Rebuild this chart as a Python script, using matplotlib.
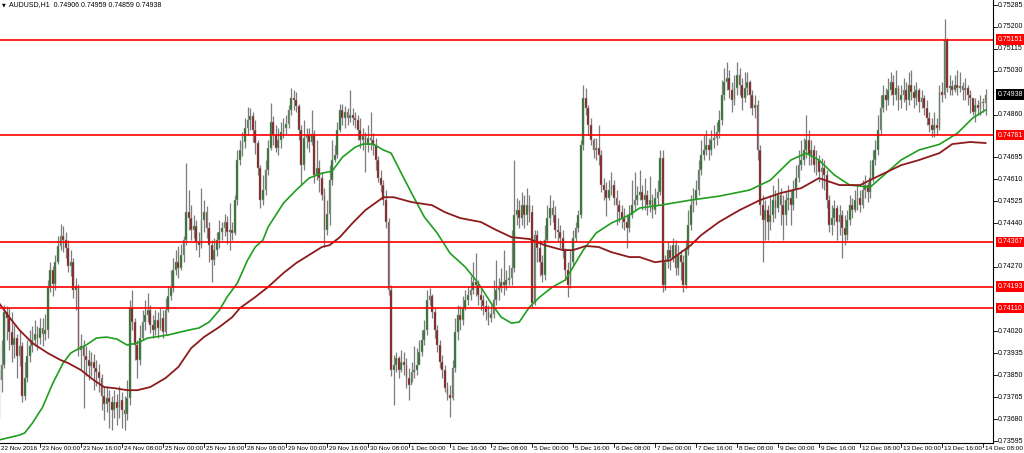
import numpy as np
import matplotlib.pyplot as plt
from matplotlib.transforms import blended_transform_factory

# AUDUSD H1 bars, prices in points (1 point = 0.00001)
first_open = 73870
close_pts = [
    73831, 73889, 74095, 74071, 74017, 73967, 73994, 73924, 73963, 73769,
    73839, 73924, 73963, 73986, 74009, 73994, 74033, 74009, 74025, 74188,
    74257, 74203, 74288, 74351, 74389, 74374, 74343, 74273, 74288, 74180,
    74195, 73947, 73963, 73924, 73909, 73885, 73901, 73878, 73862, 73839,
    73769, 73738, 73761, 73746, 73715, 73746, 73723, 73754, 73715, 73699,
    73761, 74110, 74056, 73967, 73909, 73994, 74056, 74083, 74102, 74044,
    74025, 74064, 74033, 74071, 74017, 74102, 74157, 74188, 74257, 74288,
    74265, 74316, 74374, 74482, 74459, 74413, 74428, 74366, 74354, 74451,
    74482, 74420, 74354, 74296, 74335, 74374, 74405, 74420, 74444, 74405,
    74413, 74401, 74529, 74684, 74723, 74754, 74808, 74839, 74854, 74800,
    74750, 74653, 74529, 74568, 74645, 74730, 74831, 74781, 74730, 74761,
    74792, 74808, 74823, 74878, 74924, 74916, 74893, 74800, 74664, 74769,
    74781, 74754, 74785, 74626, 74653, 74614, 74548, 74413, 74475, 74606,
    74684, 74703, 74800, 74878, 74847, 74870, 74847, 74858, 74847, 74839,
    74800, 74761, 74777, 74742, 74769, 74761, 74742, 74684, 74614, 74587,
    74529, 74444, 74180, 73870, 73889, 73916, 73870, 73901, 73889, 73839,
    73812, 73862, 73870, 73889, 73940, 73986, 74025, 74141, 74157, 74095,
    74025, 73967, 73901, 73870, 73800, 73773, 73761, 73878, 74017, 74083,
    74064, 74110, 74141, 74161, 74180, 74211, 74199, 74161, 74141, 74118,
    74095, 74071, 74087, 74141, 74180, 74188, 74211, 74199, 74219, 74226,
    74265, 74471, 74490, 74459, 74509, 74471, 74509, 74482, 74130, 74393,
    74343, 74288, 74238, 74374, 74459, 74498, 74471, 74413, 74405, 74382,
    74335, 74257, 74199, 74288, 74382, 74420, 74471, 74742, 74924, 74886,
    74820, 74761, 74723, 74730, 74703, 74587, 74568, 74537, 74568, 74587,
    74537, 74509, 74482, 74459, 74444, 74420, 74471, 74509, 74529, 74548,
    74560, 74529, 74548, 74509, 74529, 74490, 74537, 74560, 74692, 74199,
    74288, 74335, 74304, 74354, 74265, 74316, 74288, 74199, 74335, 74432,
    74509, 74529, 74568, 74645, 74703, 74723, 74742, 74723, 74761, 74769,
    74792, 74839, 74936, 74986, 75002, 74955, 74916, 74963, 75013, 74975,
    74924, 74963, 74986, 74936, 74886, 74897, 74723, 74509, 74451, 74490,
    74444, 74471, 74529, 74498, 74548, 74509, 74471, 74529, 74537, 74509,
    74568, 74614, 74664, 74684, 74723, 74761, 74703, 74723, 74664, 74684,
    74637, 74653, 74626, 74529, 74432, 74459, 74498, 74444, 74471, 74420,
    74393, 74451, 74509, 74490, 74529, 74537, 74509, 74568, 74587, 74560,
    74614, 74684, 74723, 74800, 74886, 74936, 74916, 74955, 74986, 74936,
    74963, 74916, 74936, 74955, 74916, 74975, 74947, 74924, 74955, 74909,
    74924, 74886, 74847, 74820, 74800, 74820, 74808, 74947, 74936, 75149,
    74963, 74971, 74955, 74975, 74963, 74971, 74955, 74963, 74936, 74924,
    74870, 74897, 74886, 74909, 74906, 74938]
high_pts = [
    73967, 73986, 74122, 74118, 74110, 74095, 74044, 74009, 74025, 73978,
    73901, 73986, 74025, 74040, 74064, 74040, 74071, 74071, 74087, 74219,
    74288, 74273, 74316, 74389, 74436, 74428, 74405, 74374, 74335, 74304,
    74226, 74203, 74009, 73986, 73963, 73947, 73940, 73932, 73909, 73893,
    73854, 73808, 73808, 73792, 73769, 73792, 73777, 73808, 73785, 73769,
    73831, 74141, 74180, 74071, 73986, 74044, 74102, 74141, 74168, 74122,
    74083, 74102, 74095, 74110, 74102, 74149, 74195, 74257, 74304, 74335,
    74351, 74358, 74389, 74672, 74568, 74509, 74471, 74451, 74405, 74575,
    74529, 74506, 74444, 74374, 74382, 74405, 74451, 74444, 74475, 74467,
    74517, 74444, 74548, 74723, 74761, 74792, 74847, 74889, 74886, 74870,
    74839, 74761, 74664, 74626, 74684, 74761, 74905, 74854, 74820, 74808,
    74831, 74847, 74858, 74897, 74963, 74955, 74947, 74901, 74820, 74839,
    74808, 74808, 74878, 74800, 74761, 74684, 74637, 74575, 74529, 74664,
    74761, 74742, 74831, 74901, 74901, 74893, 74886, 74955, 74886, 74870,
    74858, 74847, 74808, 74792, 74820, 74870, 74788, 74769, 74699, 74645,
    74606, 74568, 74459, 74199, 73928, 73940, 73924, 73947, 73940, 73916,
    73878, 73901, 73963, 73955, 73986, 74025, 74064, 74180, 74188, 74164,
    74110, 74044, 73986, 73928, 73889, 73823, 73812, 73909, 74071, 74122,
    74118, 74157, 74180, 74195, 74234, 74288, 74323, 74219, 74188, 74161,
    74141, 74122, 74122, 74219, 74296, 74226, 74265, 74335, 74257, 74277,
    74413, 74684, 74537, 74529, 74560, 74548, 74575, 74548, 74509, 74413,
    74413, 74374, 74316, 74432, 74509, 74548, 74529, 74506, 74459, 74432,
    74413, 74343, 74288, 74335, 74413, 74444, 74490, 74761, 74975, 74963,
    74897, 74847, 74769, 74769, 74820, 74723, 74614, 74599, 74606, 74637,
    74606, 74568, 74529, 74509, 74498, 74475, 74509, 74606, 74637, 74583,
    74645, 74587, 74614, 74568, 74622, 74552, 74575, 74606, 74723, 74723,
    74316, 74366, 74354, 74382, 74374, 74354, 74335, 74316, 74374, 74490,
    74548, 74575, 74606, 74684, 74761, 74781, 74800, 74769, 74800, 74820,
    74831, 74878, 74994, 75040, 75064, 75033, 74986, 75013, 75064, 75040,
    75002, 75025, 75025, 74994, 74955, 74936, 74916, 74742, 74548, 74529,
    74509, 74548, 74587, 74568, 74614, 74575, 74548, 74560, 74587, 74568,
    74606, 74664, 74723, 74761, 74769, 74858, 74800, 74761, 74742, 74723,
    74703, 74692, 74684, 74645, 74548, 74509, 74529, 74509, 74509, 74490,
    74471, 74490, 74548, 74537, 74568, 74587, 74568, 74606, 74626, 74599,
    74684, 74723, 74761, 74858, 74936, 74975, 74963, 75002, 75025, 75013,
    75033, 74975, 74975, 75002, 74986, 75025, 75033, 74975, 74986, 74963,
    74955, 74936, 74916, 74870, 74847, 74870, 74847, 74975, 74986, 75230,
    75157, 75013, 74994, 75013, 75033, 75025, 74986, 75002, 74975, 74955,
    74924, 74924, 74916, 74936, 74924, 74959]
low_pts = [
    73684, 73785, 73878, 73986, 73947, 73901, 73916, 73839, 73885, 73746,
    73754, 73823, 73901, 73940, 73963, 73947, 73971, 73963, 73986, 73994,
    74172, 74157, 74180, 74281, 74335, 74327, 74304, 74250, 74234, 74149,
    74102, 73924, 73870, 73723, 73847, 73831, 73847, 73792, 73808, 73785,
    73715, 73676, 73707, 73645, 73637, 73684, 73657, 73684, 73645, 73637,
    73676, 73734, 74025, 73909, 73839, 73889, 73986, 74025, 74056, 74013,
    73994, 74006, 73994, 74025, 73994, 74006, 74095, 74141, 74172, 74238,
    74226, 74257, 74288, 74354, 74413, 74374, 74382, 74335, 74308, 74343,
    74405, 74382, 74288, 74211, 74277, 74312, 74343, 74374, 74389, 74358,
    74335, 74374, 74393, 74509, 74664, 74699, 74730, 74781, 74800, 74754,
    74707, 74626, 74498, 74509, 74548, 74626, 74723, 74742, 74715, 74703,
    74730, 74769, 74785, 74808, 74858, 74878, 74870, 74761, 74587, 74645,
    74730, 74715, 74742, 74595, 74606, 74560, 74529, 74347, 74393, 74432,
    74587, 74676, 74692, 74792, 74820, 74808, 74820, 74831, 74820, 74808,
    74761, 74730, 74723, 74637, 74715, 74723, 74703, 74645, 74599, 74560,
    74509, 74420, 74161, 73847, 73734, 73862, 73839, 73862, 73851, 73800,
    73754, 73823, 73839, 73851, 73901, 73924, 73967, 74006, 74122, 74071,
    73994, 73940, 73878, 73839, 73785, 73754, 73688, 73754, 73862, 73986,
    74025, 74044, 74102, 74122, 74141, 74164, 74157, 74122, 74102, 74083,
    74064, 74044, 74056, 74071, 74122, 74141, 74172, 74161, 74180, 74199,
    74199, 74250, 74432, 74420, 74432, 74420, 74432, 74444, 74110, 74122,
    74288, 74234, 74211, 74219, 74366, 74432, 74444, 74382, 74366, 74343,
    74304, 74219, 74153, 74188, 74277, 74366, 74405, 74459, 74723, 74858,
    74781, 74742, 74692, 74684, 74664, 74560, 74529, 74467, 74529, 74548,
    74509, 74432, 74444, 74420, 74413, 74343, 74405, 74459, 74490, 74509,
    74529, 74490, 74490, 74471, 74482, 74459, 74475, 74509, 74548, 74172,
    74180, 74265, 74257, 74288, 74238, 74238, 74219, 74172, 74188, 74316,
    74413, 74482, 74509, 74548, 74626, 74684, 74703, 74684, 74703, 74730,
    74742, 74769, 74820, 74916, 74955, 74924, 74870, 74897, 74936, 74936,
    74878, 74909, 74936, 74886, 74858, 74847, 74684, 74471, 74288, 74374,
    74374, 74413, 74444, 74459, 74482, 74432, 74374, 74432, 74490, 74432,
    74490, 74537, 74599, 74645, 74664, 74692, 74664, 74664, 74637, 74626,
    74599, 74575, 74568, 74498, 74405, 74393, 74432, 74374, 74393, 74304,
    74354, 74374, 74432, 74459, 74482, 74490, 74482, 74498, 74537, 74521,
    74537, 74599, 74664, 74703, 74781, 74870, 74878, 74897, 74936, 74897,
    74916, 74878, 74886, 74909, 74878, 74897, 74916, 74886, 74897, 74870,
    74886, 74858, 74820, 74792, 74773, 74773, 74781, 74800, 74909, 74924,
    74947, 74936, 74936, 74947, 74936, 74947, 74916, 74916, 74897, 74866,
    74858, 74831, 74858, 74858, 74870, 74859]

# moving averages (bar index, points)
green_ma_bars = [0, 8, 10, 13, 17, 21, 25, 28, 30, 34, 38, 42, 46, 50, 54, 58, 66, 74, 78, 82,
                 86, 89, 93, 97, 100, 103, 105, 111, 116, 121, 126, 130, 134, 139, 142, 146, 150, 153, 157, 161,
                 166, 171, 176, 182, 187, 192, 196, 200, 203, 207, 211, 216, 221, 224, 228, 233, 239, 246, 250, 258,
                 270, 281, 293, 301, 309, 315, 320, 326, 332, 340, 344, 352, 359, 367, 374, 380, 385]
green_ma_pts = [73599, 73618, 73626, 73664, 73726, 73819, 73897, 73936, 73947, 73967, 73994, 73998, 73990, 73967, 73975, 73994, 74006, 74025, 74033, 74056,
                74102, 74153, 74207, 74296, 74347, 74374, 74424, 74517, 74568, 74614, 74633, 74641, 74695, 74734, 74746, 74746, 74723, 74711, 74633, 74556,
                74463, 74401, 74323, 74269, 74207, 74130, 74075, 74052, 74056, 74114, 74153, 74192, 74219, 74269, 74335, 74401, 74440, 74471, 74498, 74509,
                74529, 74544, 74568, 74606, 74684, 74711, 74684, 74626, 74587, 74579, 74614, 74684, 74723, 74745, 74788, 74847, 74878]
red_ma_bars = [0, 4, 8, 13, 19, 24, 27, 32, 37, 41, 45, 50, 54, 59, 65, 70, 75, 80, 86, 91,
               94, 100, 105, 111, 116, 121, 126, 129, 133, 138, 143, 150, 154, 161, 169, 174, 180, 188, 194, 200,
               207, 213, 220, 224, 229, 234, 239, 246, 250, 256, 262, 270, 274, 281, 289, 297, 305, 313, 320, 328,
               336, 344, 352, 359, 367, 372, 379, 385]
red_ma_pts = [74130, 74075, 74025, 73975, 73936, 73909, 73897, 73870, 73831, 73804, 73800, 73792, 73792, 73804, 73839, 73882, 73955, 73998, 74037, 74075,
              74110, 74153, 74192, 74246, 74285, 74316, 74347, 74354, 74385, 74440, 74490, 74540, 74540, 74521, 74509, 74482, 74459, 74444, 74413, 74385,
              74378, 74354, 74335, 74335, 74351, 74347, 74327, 74308, 74308, 74288, 74296, 74354, 74393, 74444, 74490, 74529, 74556, 74575, 74614, 74587,
              74587, 74626, 74664, 74684, 74711, 74746, 74754, 74750]

levels = [0.75151, 0.74781, 0.74367, 0.74193, 0.74110]
last_price = 0.74938
price_ticks = [0.75285, 0.75200, 0.75115, 0.75030, 0.74860, 0.74695, 0.74610, 0.74525,
               0.74440, 0.74270, 0.74020, 0.73935, 0.73850, 0.73765, 0.73680, 0.73595]
time_labels = ['22 Nov 2016', '23 Nov 00:00', '23 Nov 16:00', '24 Nov 08:00', '25 Nov 00:00',
               '25 Nov 16:00', '28 Nov 08:00', '29 Nov 00:00', '29 Nov 16:00', '30 Nov 08:00',
               '1 Dec 00:00', '1 Dec 16:00', '2 Dec 08:00', '5 Dec 00:00', '5 Dec 16:00',
               '6 Dec 08:00', '7 Dec 00:00', '7 Dec 16:00', '8 Dec 08:00', '9 Dec 00:00',
               '9 Dec 16:00', '12 Dec 08:00', '13 Dec 00:00', '13 Dec 16:00', '14 Dec 08:00']
title = 'AUDUSD,H1  0.74906 0.74959 0.74859 0.74938'

plt.rcParams['font.family'] = ['Liberation Sans', 'DejaVu Sans']

c = np.array(close_pts) / 1e5
h = np.array(high_pts) / 1e5
l = np.array(low_pts) / 1e5
o = np.concatenate([[first_open / 1e5], c[:-1]])
idx = np.arange(len(c))

fig = plt.figure(figsize=(10.24, 4.53), dpi=100)
ax = fig.add_axes([0, 1 - 443 / 453, 993 / 1024, 443 / 453])

# candles: gray wicks, green up bodies, maroon down bodies
ax.vlines(idx, l, h, color='#7c7c7c', lw=0.9, zorder=2)
up = c >= o
bot = np.minimum(o, c)
hgt = np.maximum(np.abs(c - o), 0.00002)
ax.bar(idx[up], hgt[up], bottom=bot[up], width=0.7, color='#1e6a1e',
       edgecolor='#a0a0a0', linewidth=0.35, zorder=3)
ax.bar(idx[~up], hgt[~up], bottom=bot[~up], width=0.7, color='#7a0e0e',
       edgecolor='#a0a0a0', linewidth=0.35, zorder=3)

ax.plot(green_ma_bars, np.array(green_ma_pts) / 1e5, color='#1f9e1f', lw=1.2, zorder=4)
ax.plot(red_ma_bars, np.array(red_ma_pts) / 1e5, color='#8e1b1b', lw=1.3, zorder=4)

for lv in levels:
    ax.axhline(lv, color='#ff0000', lw=1.2, zorder=5)

ax.set_xlim(0.39, 387.9)
ax.set_ylim(0.735873, 0.753044)
ax.set_xticks([])
ax.set_yticks([])
for s in ['left', 'top']:
    ax.spines[s].set_visible(False)
for s in ['right', 'bottom']:
    ax.spines[s].set_color('black')
    ax.spines[s].set_linewidth(0.8)

ty = blended_transform_factory(ax.transAxes, ax.transData)
for p in price_ticks:
    ax.plot([1.0, 1.004], [p, p], transform=ty, color='black', lw=0.6, clip_on=False)
    ax.text(1.005, p, f'{p:.5f}', transform=ty, fontsize=5, va='center', ha='left')

for lv in levels:
    ax.text(1.005, lv, f'{lv:.5f}', transform=ty, fontsize=5, va='center', ha='left',
            color='white', bbox=dict(boxstyle='square,pad=0.25', fc='#ff0000', ec='none'))
ax.text(1.005, last_price, f'{last_price:.5f}', transform=ty, fontsize=5, va='center', ha='left',
        color='white', bbox=dict(boxstyle='square,pad=0.25', fc='black', ec='none'))

tx = blended_transform_factory(ax.transData, ax.transAxes)
for k, lab in enumerate(time_labels):
    b = 16 * k
    if k == 0:
        ax.text(0.6, -0.012, lab, transform=tx, fontsize=4.6, va='center', ha='left')
        continue
    ax.plot([b, b], [0, -0.009], transform=tx, color='black', lw=0.6, clip_on=False)
    ax.text(b + 0.9, -0.012, lab, transform=tx, fontsize=4.6, va='center', ha='left')

fig.text(2 / 1024, 1 - 5 / 453, '\u25bc', fontsize=3.5, va='center', ha='left', family='DejaVu Sans')
fig.text(9 / 1024, 1 - 5 / 453, title, fontsize=5, va='center', ha='left')

fig.savefig('out.png', dpi=100)
